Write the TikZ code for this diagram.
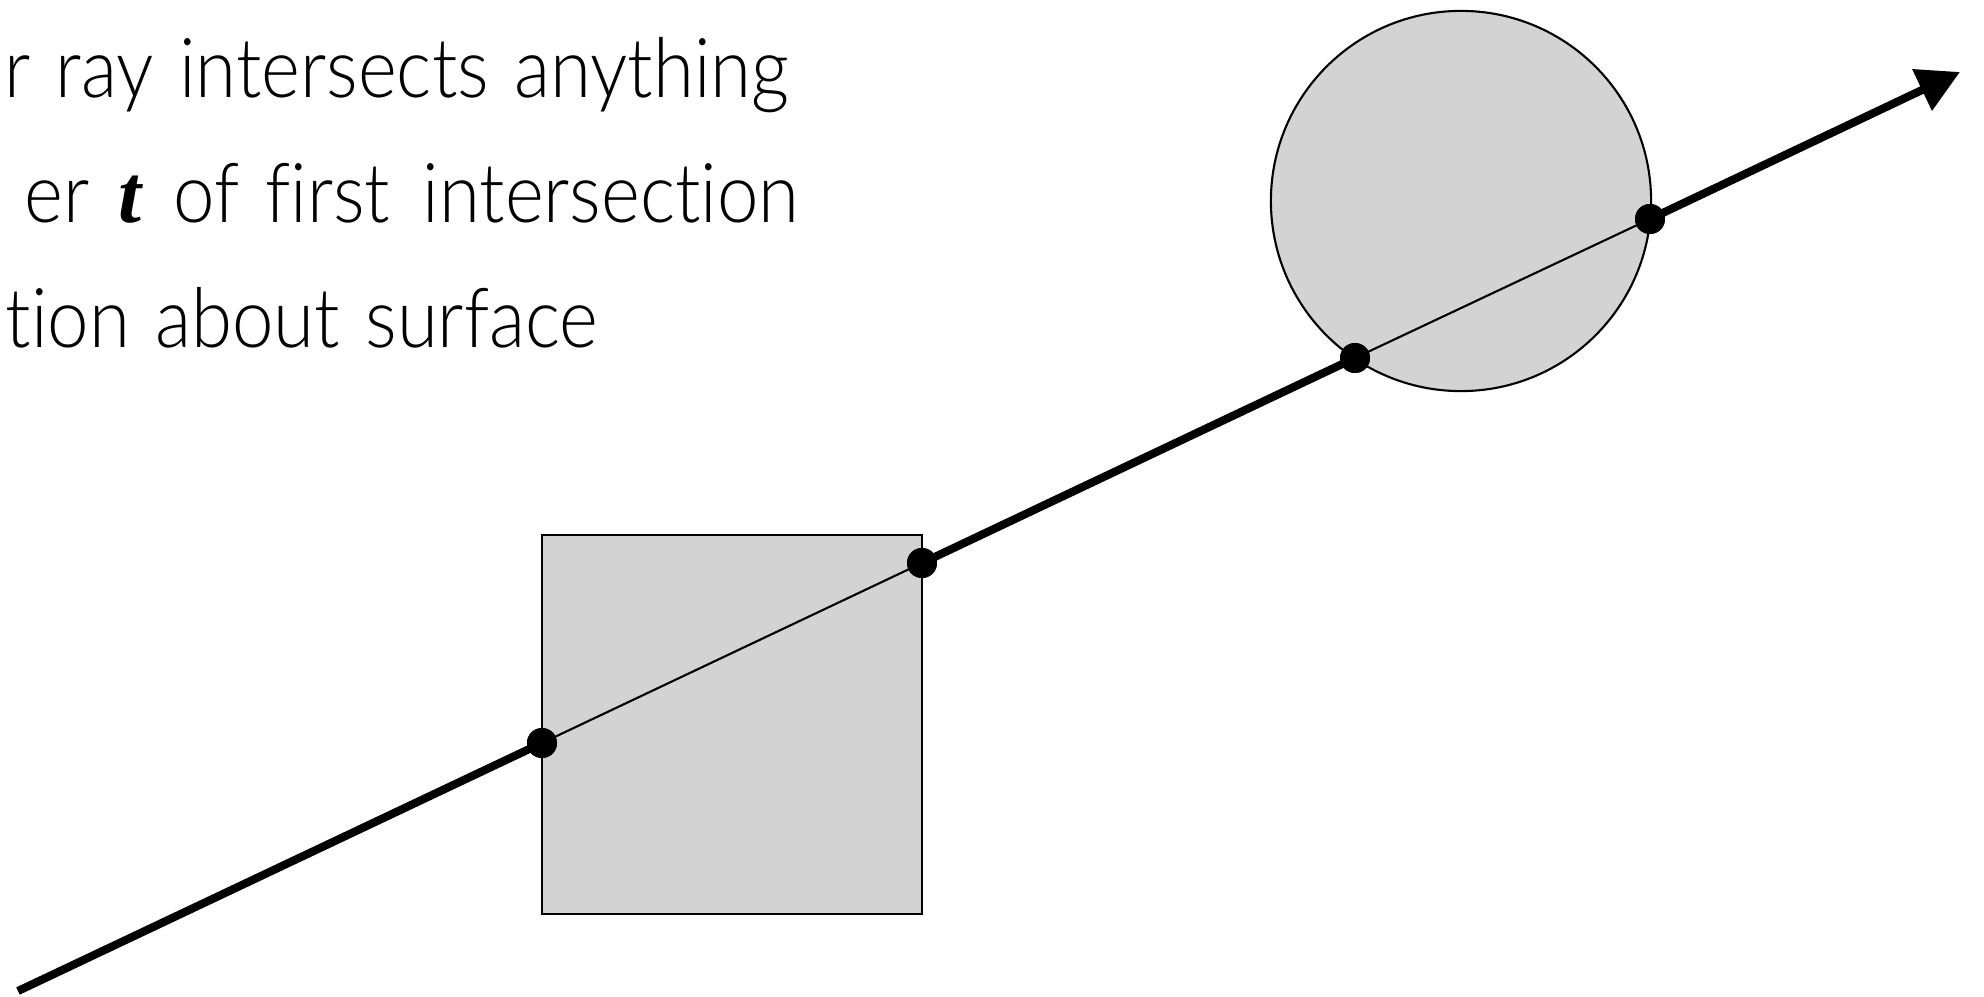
\documentclass[tikz,border=0pt]{standalone}
\usepackage{fontspec}
\setmainfont{Lato Light}[FakeStretch=0.9,WordSpace=1.25,Ligatures=NoCommon]
\newfontfamily\serifit{Liberation Serif}
\usepackage{xcolor}
\usetikzlibrary{arrows.meta}
\definecolor{shapegray}{RGB}{211,211,211}

\begin{document}
\begin{tikzpicture}[x=0.01cm,y=0.01cm,
    slidetext/.style={anchor=base east,inner sep=0pt,font=\fontsize{23.5}{28}\selectfont},
    thickray/.style={line width=2.3pt},
    thinray/.style={line width=0.6pt},
    object/.style={draw,line width=0.6pt,fill=shapegray},
    hitdot/.style={circle,fill=black,inner sep=0pt,minimum size=0.3cm}]
    \useasboundingbox (0,0) rectangle (1984,996);

    % Text
    \node[slidetext] (line1) at (790,898) {r ray intersects anything};
    \node[slidetext] (line2) at (800,773) {er\hspace{1pt} {\serifit\bfseries\itshape t}\hspace{2pt} of first\hspace{2pt} intersection};
    \node[slidetext] (line3) at (599,649) {tion about surface};

    % Objects
    \draw[object] (542,82) rectangle (922,461);
    \draw[object] (1461,795) circle[radius=1.9cm];

    % Points on the ray
    \coordinate (start) at (18,5);
    \coordinate (tip) at (1960,924);
    \node[hitdot] (sqin) at (542,253) {};
    \node[hitdot] (sqout) at (922,433) {};
    \node[hitdot] (cin) at (1355,638) {};
    \node[hitdot] (cout) at (1650,777) {};

    % Ray
    \draw[thickray] (start) -- (sqin.center);
    \draw[thinray] (sqin.center) -- (sqout.center);
    \draw[thickray] (sqout.center) -- (cin.center);
    \draw[thinray] (cin.center) -- (cout.center);
    \draw[thickray,-{Triangle[length=0.42cm,width=0.44cm]}] (cout.center) -- (tip);

    % Dots on top
    \foreach \p in {sqin,sqout,cin,cout}
        \fill (\p) circle[radius=0.15cm];
\end{tikzpicture}
\end{document}
